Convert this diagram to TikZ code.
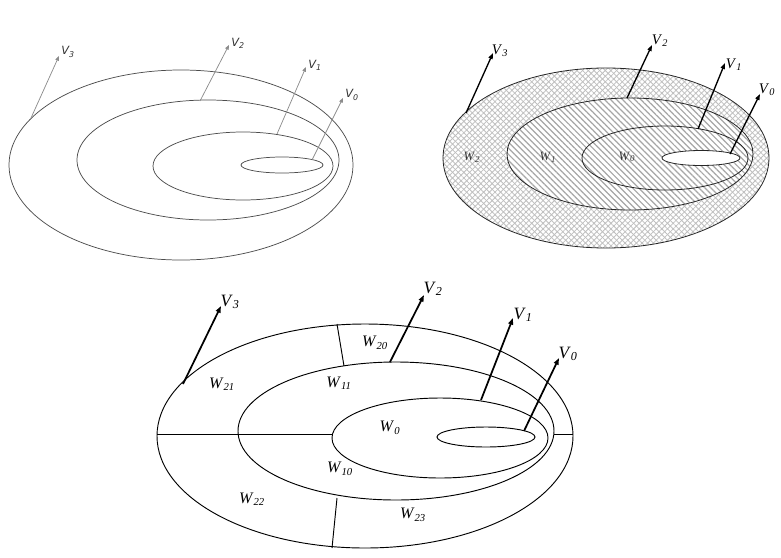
\documentclass[tikz,border=0pt]{standalone}
\usepackage{fontspec}
\setmainfont{Liberation Serif}
\newfontfamily\lsans{DejaVu Sans}
\usetikzlibrary{arrows.meta,patterns.meta}
\newcommand\mylab[2]{\textit{#1}\textsubscript{\textit{#2}}}
\begin{document}
\begin{tikzpicture}[x=0.75pt,y=-0.75pt,
  tlline/.style={draw=black!70, line width=0.55pt},
  tlarrow/.style={draw=black!45, line width=0.55pt, -{Triangle[length=3.5pt,width=2.8pt]}},
  tllab/.style={font=\lsans\fontsize{8.5}{10}\selectfont\itshape, text=black!80, inner sep=0pt},
  trline/.style={draw=black!85, line width=0.6pt},
  trarrow/.style={draw=black, line width=1pt, -{Triangle[length=4.5pt,width=3.2pt]}},
  trlab/.style={font=\fontsize{11}{13}\selectfont, inner sep=0pt},
  trwlab/.style={font=\fontsize{9.5}{11}\selectfont, inner sep=0pt, text=black!80},
  bline/.style={draw=black, line width=0.7pt},
  barrow/.style={draw=black, line width=1.3pt, -{Triangle[length=5pt,width=3.6pt]}},
  blab/.style={font=\fontsize{13}{15}\selectfont, inner sep=0pt},
  bwlab/.style={font=\fontsize{12}{14}\selectfont, inner sep=0pt},
  hatch/.style={pattern={Lines[angle=-45,distance=3.2pt,line width=0.9pt]}, pattern color=black!35},
  crossa/.style={pattern={Lines[angle=45,distance=3pt,line width=0.6pt]}, pattern color=black!25},
  crossb/.style={pattern={Lines[angle=-45,distance=3pt,line width=0.6pt]}, pattern color=black!25}
]
\useasboundingbox (0,0) rectangle (781,557);

% ---------------- top-left ----------------
\draw[tlline] (181,165) ellipse [x radius=172, y radius=95];
\draw[tlline] (208,160) ellipse [x radius=131, y radius=60];
\draw[tlline] (243,166) ellipse [x radius=90, y radius=34];
\draw[tlline] (282,165) ellipse [x radius=41, y radius=8];
\coordinate (tla3) at (31,118); \coordinate (tlb3) at (59,56);
\coordinate (tla2) at (200,101); \coordinate (tlb2) at (229,45);
\coordinate (tla1) at (277,134); \coordinate (tlb1) at (306,67);
\coordinate (tla0) at (312,160); \coordinate (tlb0) at (343,98);
\draw[tlarrow] (tla3) -- (tlb3);
\draw[tlarrow] (tla2) -- (tlb2);
\draw[tlarrow] (tla1) -- (tlb1);
\draw[tlarrow] (tla0) -- (tlb0);
\node[tllab] (tlv3) at (68,52) {V\textsubscript{3}};
\node[tllab] (tlv2) at (238,43) {V\textsubscript{2}};
\node[tllab] (tlv1) at (315,65) {V\textsubscript{1}};
\node[tllab] (tlv0) at (352,95) {V\textsubscript{0}};

% ---------------- top-right ----------------
\fill[white] (606,158) ellipse [x radius=163, y radius=90];
\path[crossa] (606,158) ellipse [x radius=163, y radius=90];
\path[crossb] (606,158) ellipse [x radius=163, y radius=90];
\fill[white] (630,154) ellipse [x radius=123, y radius=56];
\path[hatch] (630,154) ellipse [x radius=123, y radius=56];
\fill[white] (701,158) ellipse [x radius=39, y radius=7.5];
\draw[trline] (606,158) ellipse [x radius=163, y radius=90];
\draw[trline] (630,154) ellipse [x radius=123, y radius=56];
\draw[trline] (665,158) ellipse [x radius=83, y radius=32];
\draw[trline] (701,158) ellipse [x radius=39, y radius=7.5];
\coordinate (tra3) at (466,113); \coordinate (trb3) at (493,53);
\coordinate (tra2) at (627,98); \coordinate (trb2) at (652,45);
\coordinate (tra1) at (698,129); \coordinate (trb1) at (725,63);
\coordinate (tra0) at (730,154); \coordinate (trb0) at (760,94);
\draw[trarrow] (tra3) -- (trb3);
\draw[trarrow] (tra2) -- (trb2);
\draw[trarrow] (tra1) -- (trb1);
\draw[trarrow] (tra0) -- (trb0);
\node[trlab] (trv3) at (500,51) {\mylab{V}{3}};
\node[trlab] (trv2) at (660,41) {\mylab{V}{2}};
\node[trlab] (trv1) at (734,65) {\mylab{V}{1}};
\node[trlab] (trv0) at (767,90) {\mylab{V}{0}};
\node[trwlab] (trw2) at (472,157) {\mylab{W}{2}};
\node[trwlab] (trw1) at (548,157) {\mylab{W}{1}};
\node[trwlab] (trw0) at (627,157) {\mylab{W}{0}};

% ---------------- bottom ----------------
\draw[bline] (365,436) ellipse [x radius=208, y radius=112];
\draw[bline] (396,431) ellipse [x radius=158, y radius=69];
\draw[bline] (440,438) ellipse [x radius=108, y radius=40];
\draw[bline] (486,437) ellipse [x radius=49, y radius=10];
\coordinate (bh1) at (157,434); \coordinate (bh2) at (332,434);
\coordinate (bh3) at (554,434); \coordinate (bh4) at (573,434);
\coordinate (bt1) at (337,324); \coordinate (bt2) at (344,366);
\coordinate (bu1) at (337,498); \coordinate (bu2) at (332,548);
\draw[bline] (bh1) -- (bh2);
\draw[bline] (bh3) -- (bh4);
\draw[bline] (bt1) -- (bt2);
\draw[bline] (bu1) -- (bu2);
\coordinate (ba3) at (183,384); \coordinate (bb3) at (221,306);
\coordinate (ba2) at (390,362); \coordinate (bb2) at (424,295);
\coordinate (ba1) at (481,400); \coordinate (bb1) at (513,318);
\coordinate (ba0) at (524,431); \coordinate (bb0) at (559,358);
\draw[barrow] (ba3) -- (bb3);
\draw[barrow] (ba2) -- (bb2);
\draw[barrow] (ba1) -- (bb1);
\draw[barrow] (ba0) -- (bb0);
\node[blab] (bv3) at (230,302) {\mylab{V}{3}};
\node[blab] (bv2) at (433,289) {\mylab{V}{2}};
\node[blab] (bv1) at (523,315) {\mylab{V}{1}};
\node[blab] (bv0) at (568,354) {\mylab{V}{0}};
\node[bwlab] (bw20) at (375,343) {\mylab{W}{20}};
\node[bwlab] (bw21) at (222,384) {\mylab{W}{21}};
\node[bwlab] (bw11) at (339,383) {\mylab{W}{11}};
\node[bwlab] (bw0) at (390,428) {\mylab{W}{0}};
\node[bwlab] (bw10) at (340,469) {\mylab{W}{10}};
\node[bwlab] (bw22) at (252,499) {\mylab{W}{22}};
\node[bwlab] (bw23) at (413,515) {\mylab{W}{23}};
\end{tikzpicture}
\end{document}
